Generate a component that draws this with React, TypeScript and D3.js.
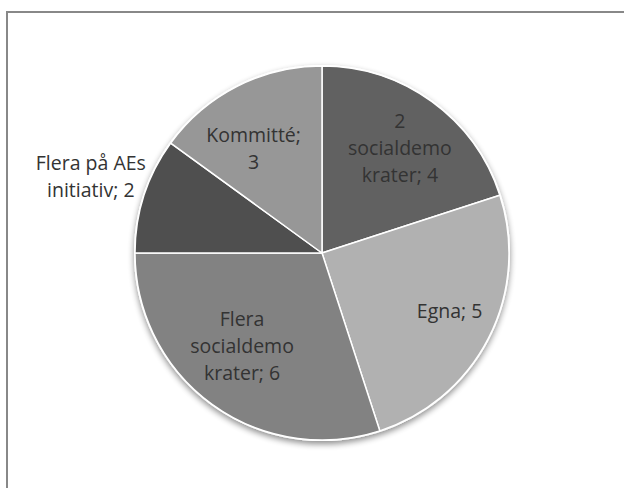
import { useEffect, useRef } from "react";
import * as d3 from "d3";

const categories = [
  "2 socialdemokrater",
  "Egna",
  "Flera socialdemokrater",
  "Flera på AEs initiativ",
  "Kommitté",
];
const values = [4, 5, 6, 2, 3];
const labelLines = [
  ["2", "socialdemo", "krater; 4"],
  ["Egna; 5"],
  ["Flera", "socialdemo", "krater; 6"],
  ["Flera på AEs", "initiativ; 2"],
  ["Kommitté;", "3"],
];
const fills = ["#616161", "#b1b1b1", "#828282", "#4f4f4f", "#979797"];

// layout tweaks for the label boxes (px, relative to the default centroid spot)
const labelNudge: [number, number][] = [
  [1, 2],
  [11, 0],
  [-3, -12],
  [0, 0],
  [-9, 13],
];

const App = () => {
  const svgRef = useRef(null);

  useEffect(() => {
    const width = 624;
    const height = 488;
    const cx = 322;
    const cy = 253;
    const radius = 187;

    document.body.style.margin = "0";
    document.body.style.overflow = "hidden";

    const svg = d3.select(svgRef.current);
    svg.selectAll("*").remove();
    svg.attr("width", width).attr("height", height);

    svg.append("rect").attr("width", width).attr("height", height).attr("fill", "#fff");

    // frame: only the top and left edges fall inside the picture
    svg
      .append("path")
      .attr("d", `M7,${height + 10}V12H${width + 10}`)
      .attr("fill", "none")
      .attr("stroke", "#888")
      .attr("stroke-width", 2);

    const defs = svg.append("defs");
    const shadow = defs
      .append("filter")
      .attr("id", "shadow")
      .attr("x", "-20%")
      .attr("y", "-20%")
      .attr("width", "140%")
      .attr("height", "140%");
    shadow
      .append("feGaussianBlur")
      .attr("in", "SourceAlpha")
      .attr("stdDeviation", 3);
    shadow.append("feOffset").attr("dx", 0).attr("dy", 3).attr("result", "blur");
    shadow
      .append("feComponentTransfer")
      .append("feFuncA")
      .attr("type", "linear")
      .attr("slope", 0.45);
    const merge = shadow.append("feMerge");
    merge.append("feMergeNode");
    merge.append("feMergeNode").attr("in", "SourceGraphic");

    const pie = d3
      .pie<number>()
      .sort(null)
      .value((d) => d);
    const arcs = pie(values);
    const arc = d3.arc<d3.PieArcDatum<number>>().innerRadius(0).outerRadius(radius);

    const g = svg.append("g").attr("transform", `translate(${cx},${cy})`);

    g.append("circle")
      .attr("r", radius + 1)
      .attr("fill", "#fff")
      .attr("filter", "url(#shadow)");

    g.selectAll(".slice")
      .data(arcs)
      .enter()
      .append("path")
      .attr("class", "slice")
      .attr("d", arc)
      .attr("fill", (_d, i) => fills[i])
      .attr("stroke", "#fff")
      .attr("stroke-width", 1.5)
      .attr("stroke-linejoin", "round");

    const lineH = 27;
    const total = d3.sum(values);
    const labels = g
      .selectAll(".label")
      .data(arcs)
      .enter()
      .append("text")
      .attr("class", "label")
      .attr("text-anchor", "middle")
      .attr("font-family", "'Open Sans', sans-serif")
      .attr("font-size", "19.5px")
      .attr("fill", "#333")
      .attr("transform", (d, i) => {
        const outside = d.value / total < 0.15;
        const r = outside ? radius * 1.3 : radius * 0.7;
        const a = (d.startAngle + d.endAngle) / 2;
        const [nx, ny] = labelNudge[i];
        return `translate(${Math.sin(a) * r + nx},${-Math.cos(a) * r + ny})`;
      });

    labels.each(function (d, i) {
      const lines = labelLines[i];
      const t = d3.select(this);
      const start = -((lines.length - 1) * lineH) / 2 + 6;
      lines.forEach((ln, j) => {
        t.append("tspan")
          .attr("x", 0)
          .attr("y", start + j * lineH)
          .text(ln);
      });
    });
  }, []);

  return (
    <svg
      ref={svgRef}
      style={{ position: "absolute", left: 0, top: 0, display: "block" }}
    ></svg>
  );
};

export default App;
